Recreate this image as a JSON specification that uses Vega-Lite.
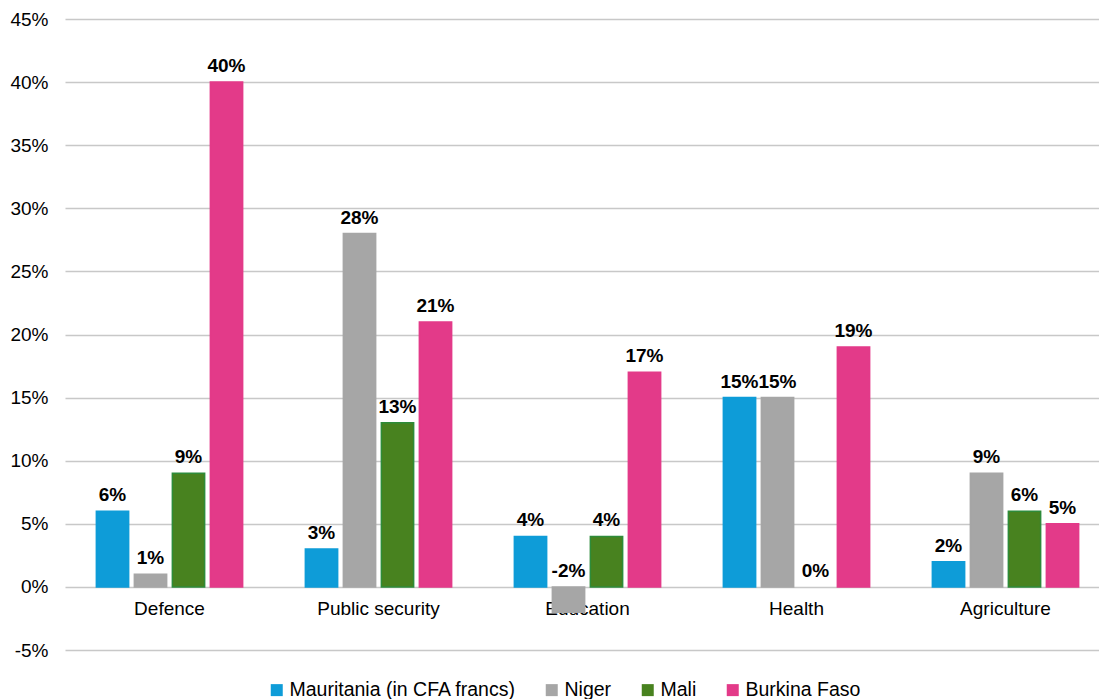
{
  "$schema": "https://vega.github.io/schema/vega-lite/v6.json",
  "width": 1045,
  "height": 631,
  "autosize": {"type": "none"},
  "padding": {"left": 65, "top": 19, "right": 0, "bottom": 49},
  "config": {
    "font": "Liberation Sans",
    "view": {"stroke": null},
    "axis": {"labelFont": "Liberation Sans", "labelColor": "#000000", "labelFontSize": 19}
  },
  "data": {
    "values": [
      {"category": "Defence", "country": "Mauritania (in CFA francs)", "value": 6},
      {"category": "Defence", "country": "Niger", "value": 1},
      {"category": "Defence", "country": "Mali", "value": 9},
      {"category": "Defence", "country": "Burkina Faso", "value": 40},
      {"category": "Public security", "country": "Mauritania (in CFA francs)", "value": 3},
      {"category": "Public security", "country": "Niger", "value": 28},
      {"category": "Public security", "country": "Mali", "value": 13},
      {"category": "Public security", "country": "Burkina Faso", "value": 21},
      {"category": "Education", "country": "Mauritania (in CFA francs)", "value": 4},
      {"category": "Education", "country": "Niger", "value": -2},
      {"category": "Education", "country": "Mali", "value": 4},
      {"category": "Education", "country": "Burkina Faso", "value": 17},
      {"category": "Health", "country": "Mauritania (in CFA francs)", "value": 15},
      {"category": "Health", "country": "Niger", "value": 15},
      {"category": "Health", "country": "Mali", "value": 0},
      {"category": "Health", "country": "Burkina Faso", "value": 19},
      {"category": "Agriculture", "country": "Mauritania (in CFA francs)", "value": 2},
      {"category": "Agriculture", "country": "Niger", "value": 9},
      {"category": "Agriculture", "country": "Mali", "value": 6},
      {"category": "Agriculture", "country": "Burkina Faso", "value": 5}
    ]
  },
  "transform": [
    {"calculate": "datum.value / 100", "as": "frac"},
    {"calculate": "max(datum.value, 0) / 100", "as": "labelPos"},
    {"calculate": "toString(datum.value) + '%'", "as": "label"}
  ],
  "encoding": {
    "x": {
      "field": "category",
      "type": "nominal",
      "sort": ["Defence", "Public security", "Education", "Health", "Agriculture"],
      "scale": {"paddingInner": 0.3, "paddingOuter": 0.15},
      "axis": {"title": null, "labelAngle": 0, "domain": false, "ticks": false, "offset": -63, "labelPadding": 12}
    },
    "xOffset": {
      "field": "country",
      "type": "nominal",
      "sort": ["Mauritania (in CFA francs)", "Niger", "Mali", "Burkina Faso"],
      "scale": {"paddingInner": 0.15, "paddingOuter": 0}
    }
  },
  "layer": [
    {
      "mark": {"type": "bar", "strokeWidth": 1.5},
      "encoding": {
        "y": {
          "field": "frac",
          "type": "quantitative",
          "scale": {"domain": [-0.05, 0.45], "nice": false},
          "axis": {
            "title": null,
            "values": [-0.05, 0, 0.05, 0.1, 0.15, 0.2, 0.25, 0.3, 0.35, 0.4, 0.45],
            "labelExpr": "toString(round(datum.value * 100)) + '%'",
            "labelOverlap": false,
            "domain": false,
            "ticks": false,
            "labelPadding": 17,
            "gridColor": "#c8c8c8",
            "gridWidth": 1.5
          }
        },
        "color": {
          "field": "country",
          "type": "nominal",
          "sort": ["Mauritania (in CFA francs)", "Niger", "Mali", "Burkina Faso"],
          "scale": {
            "domain": ["Mauritania (in CFA francs)", "Niger", "Mali", "Burkina Faso"],
            "range": ["#0E9CD8", "#A6A6A6", "#48821F", "#E33A89"]
          },
          "legend": {
            "title": null,
            "orient": "none",
            "legendX": 202,
            "legendY": 661,
            "direction": "horizontal",
            "symbolType": "square",
            "symbolSize": 144,
            "symbolStrokeWidth": 0,
            "labelFontSize": 19.5,
            "labelLimit": 0,
            "labelColor": "#000000",
            "labelFont": "Liberation Sans",
            "columnPadding": 26,
            "symbolOffset": 0,
            "labelOffset": 3
          }
        },
        "stroke": {
          "condition": {"test": "datum.value == 0", "value": null},
          "field": "country",
          "type": "nominal",
          "scale": {
            "domain": ["Mauritania (in CFA francs)", "Niger", "Mali", "Burkina Faso"],
            "range": ["#0E9CD8", "#A6A6A6", "#2E8B3A", "#E33A89"]
          },
          "legend": null
        }
      }
    },
    {
      "mark": {"type": "text", "baseline": "bottom", "dy": -6, "fontWeight": "bold", "fontSize": 19, "color": "#000000"},
      "encoding": {
        "y": {"field": "labelPos", "type": "quantitative"},
        "text": {"field": "label"}
      }
    }
  ]
}
